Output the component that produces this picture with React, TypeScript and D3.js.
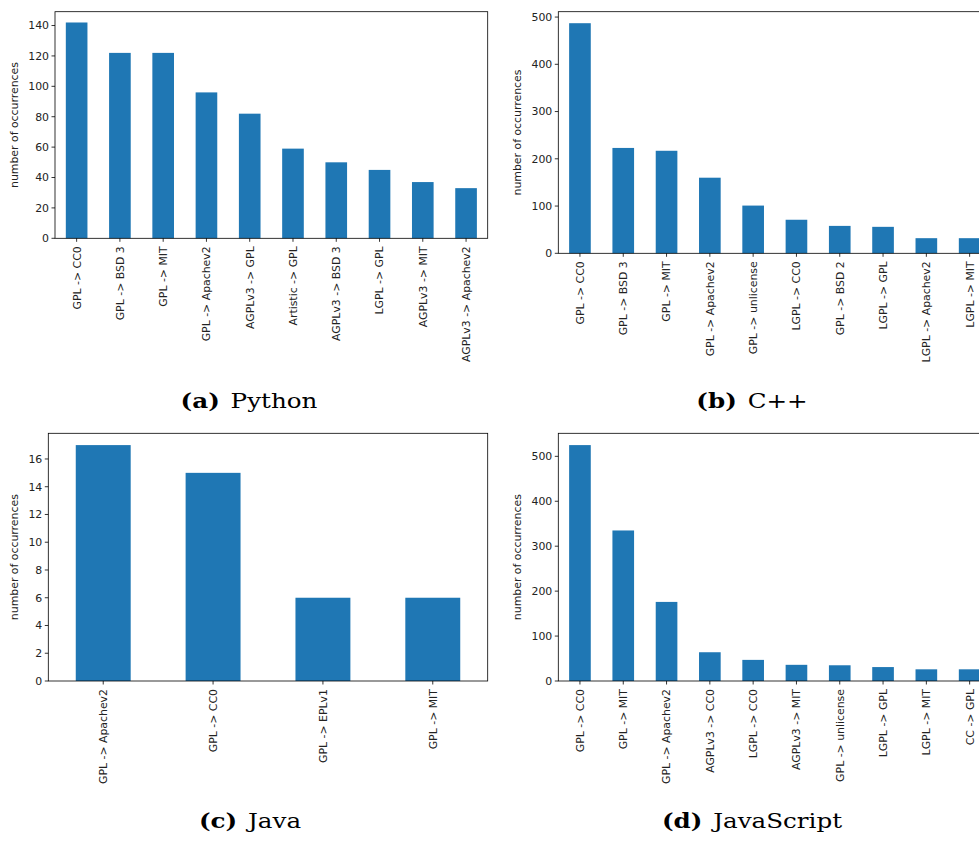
import React from "react";
import * as d3 from "d3";

const pyCategories = ["GPL -> CC0", "GPL -> BSD 3", "GPL -> MIT", "GPL -> Apachev2", "AGPLv3 -> GPL", "Artistic -> GPL", "AGPLv3 -> BSD 3", "LGPL -> GPL", "AGPLv3 -> MIT", "AGPLv3 -> Apachev2"];
const pyValues = [142, 122, 122, 96, 82, 59, 50, 45, 37, 33];
const pyTicks = [0, 20, 40, 60, 80, 100, 120, 140];

const cppCategories = ["GPL -> CC0", "GPL -> BSD 3", "GPL -> MIT", "GPL -> Apachev2", "GPL -> unlicense", "LGPL -> CC0", "GPL -> BSD 2", "LGPL -> GPL", "LGPL -> Apachev2", "LGPL -> MIT"];
const cppValues = [487, 223, 217, 160, 101, 71, 58, 56, 32, 32];
const cppTicks = [0, 100, 200, 300, 400, 500];

const javaCategories = ["GPL -> Apachev2", "GPL -> CC0", "GPL -> EPLv1", "GPL -> MIT"];
const javaValues = [17, 15, 6, 6];
const javaTicks = [0, 2, 4, 6, 8, 10, 12, 14, 16];

const jsCategories = ["GPL -> CC0", "GPL -> MIT", "GPL -> Apachev2", "AGPLv3 -> CC0", "LGPL -> CC0", "AGPLv3 -> MIT", "GPL -> unlicense", "LGPL -> GPL", "LGPL -> MIT", "CC -> GPL"];
const jsValues = [525, 335, 176, 64, 47, 36, 35, 31, 26, 26];
const jsTicks = [0, 100, 200, 300, 400, 500];

const captionLabels = ["(a)", "(b)", "(c)", "(d)"];
const captionNames = ["Python", "C++", "Java", "JavaScript"];

const BAR = "#1f77b4";
const TXT = "#222";
const FONT = "'DejaVu Sans', sans-serif";
const FS = 10.9;

type PanelProps = {
  cats: string[];
  vals: number[];
  ticks: number[];
  left: number;
  top: number;
  right: number;
  bottom: number;
  ylabelX: number;
  caption: string;
  name: string;
  capX: number;
  capY: number;
};

function Panel(p: PanelProps) {
  const x = d3.scaleBand<string>().domain(p.cats).range([p.left, p.right]).paddingInner(0.5).paddingOuter(0.25);
  const ymax = (d3.max(p.vals) as number) * 1.05;
  const y = d3.scaleLinear().domain([0, ymax]).range([p.bottom, p.top]);
  const bw = x.bandwidth();
  return (
    <g>
      {p.cats.map((c, i) => (
        <rect key={c + i} x={x(c)} y={y(p.vals[i])} width={bw} height={p.bottom - y(p.vals[i])} fill={BAR} />
      ))}
      <rect x={p.left} y={p.top} width={p.right - p.left} height={p.bottom - p.top} fill="none" stroke="#000" strokeWidth={0.8} />
      {p.ticks.map((t) => (
        <g key={"y" + t}>
          <line x1={p.left - 3.5} x2={p.left} y1={y(t)} y2={y(t)} stroke="#000" strokeWidth={0.8} />
          <text x={p.left - 6} y={y(t)} dy="0.36em" textAnchor="end" fontSize={FS} fontFamily={FONT} fill={TXT}>
            {t}
          </text>
        </g>
      ))}
      {p.cats.map((c, i) => {
        const cx = (x(c) as number) + bw / 2;
        return (
          <g key={"x" + i}>
            <line x1={cx} x2={cx} y1={p.bottom} y2={p.bottom + 3.5} stroke="#000" strokeWidth={0.8} />
            <text
              transform={`translate(${cx},${p.bottom + 8}) rotate(-90)`}
              dy="0.36em"
              textAnchor="end"
              fontSize={FS}
              fontFamily={FONT}
              fill={TXT}
            >
              {c}
            </text>
          </g>
        );
      })}
      <text
        transform={`translate(${p.ylabelX},${(p.top + p.bottom) / 2}) rotate(-90)`}
        dy="0.36em"
        textAnchor="middle"
        fontSize={FS}
        fontFamily={FONT}
        fill={TXT}
      >
        number of occurrences
      </text>
      <g transform={`translate(${p.capX},${p.capY}) scale(1.2,1)`}>
        <text x={0} y={0} textAnchor="middle" fontSize={20.5} fontFamily="'DejaVu Serif', serif" fill="#000">
          <tspan fontWeight="bold">{p.caption}</tspan>
          <tspan dx={9}>{p.name}</tspan>
        </text>
      </g>
    </g>
  );
}

export default function App() {
  return (
    <svg width={979} height={842} style={{ position: "absolute", left: 0, top: 0, background: "#fff" }}>
      <rect x={0} y={0} width={979} height={842} fill="#fff" />
      <Panel cats={pyCategories} vals={pyValues} ticks={pyTicks} left={55} top={11.7} right={487.7} bottom={238.3} ylabelX={14} caption={captionLabels[0]} name={captionNames[0]} capX={249} capY={407.5} />
      <Panel cats={cppCategories} vals={cppValues} ticks={cppTicks} left={558.3} top={11.7} right={991.3} bottom={253.3} ylabelX={517} caption={captionLabels[1]} name={captionNames[1]} capX={752} capY={407.5} />
      <Panel cats={javaCategories} vals={javaValues} ticks={javaTicks} left={48.3} top={433.3} right={487.7} bottom={681} ylabelX={14} caption={captionLabels[2]} name={captionNames[2]} capX={250} capY={828} />
      <Panel cats={jsCategories} vals={jsValues} ticks={jsTicks} left={558.3} top={433.3} right={991.3} bottom={681} ylabelX={517} caption={captionLabels[3]} name={captionNames[3]} capX={752} capY={828} />
    </svg>
  );
}
